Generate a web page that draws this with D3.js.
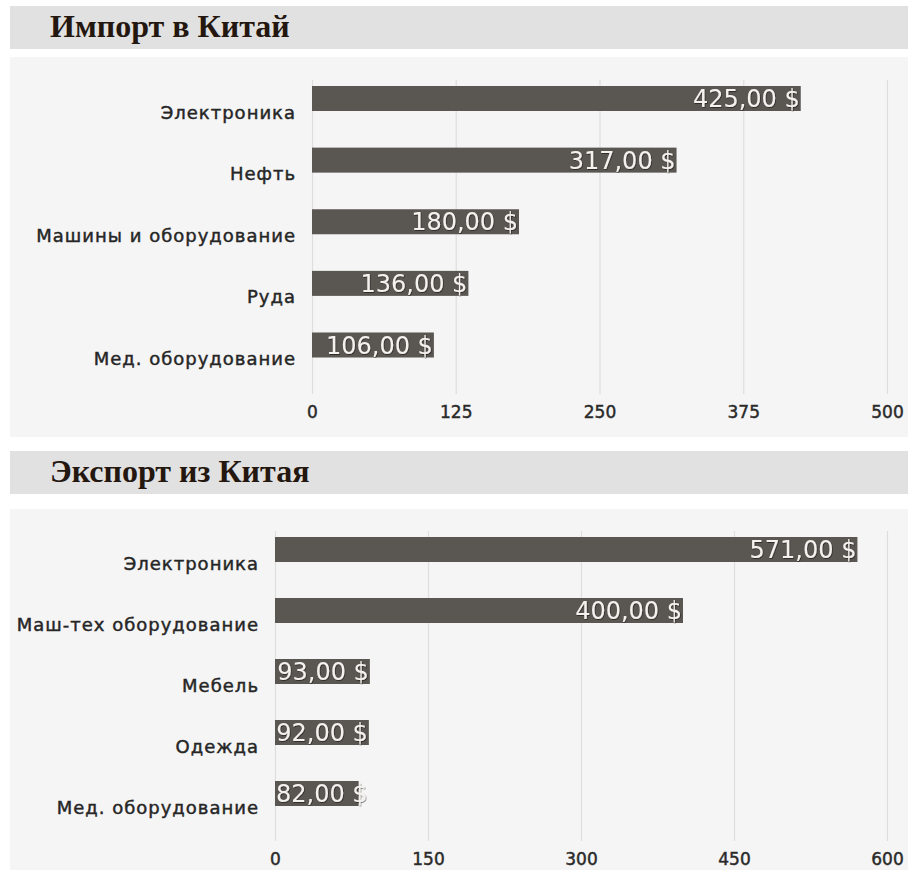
<!DOCTYPE html>
<html>
<head>
<meta charset="utf-8">
<script src="https://cdn.jsdelivr.net/npm/d3@7/dist/d3.min.js"></script>
<style>
  body { margin: 0; background: #ffffff; }
  svg { display: block; }
</style>
</head>
<body>
<svg id="chart" width="908" height="870"></svg>
<script>
// data
var importTitle = "Импорт в Китай";
var importCategories = ["Электроника", "Нефть", "Машины и оборудование", "Руда", "Мед. оборудование"];
var importValues = [425, 317, 180, 136, 106];
var importTicks = [0, 125, 250, 375, 500];

var exportTitle = "Экспорт из Китая";
var exportCategories = ["Электроника", "Маш-тех оборудование", "Мебель", "Одежда", "Мед. оборудование"];
var exportValues = [571, 400, 93, 92, 82];
var exportTicks = [0, 150, 300, 450, 600];

var svg = d3.select("#chart");

var defs = svg.append("defs");
defs.append("filter").attr("id", "shadow")
  .attr("x", "-10%").attr("y", "-20%").attr("width", "120%").attr("height", "140%")
  .append("feDropShadow")
  .attr("dx", 0.6).attr("dy", 0.8).attr("stdDeviation", 0.6)
  .attr("flood-color", "#000").attr("flood-opacity", 0.6);

var fmt = function(v) { return d3.format(".2f")(v).replace(".", ",") + " $"; };

var BarPanel = function(opts) {
  //header band
  svg.append("rect")
    .attr("x", 10).attr("y", opts.headTop)
    .attr("width", 898).attr("height", 43)
    .attr("fill", "#e1e1e1");
  svg.append("text")
    .attr("x", 50).attr("y", opts.headTop + 31)
    .attr("font-family", "'Liberation Serif', serif")
    .attr("font-weight", "bold")
    .attr("font-size", 32)
    .attr("fill", "#24170f")
    .text(opts.title);

  //panel background
  svg.append("rect")
    .attr("x", 10).attr("y", opts.panelTop)
    .attr("width", 898).attr("height", opts.panelBottom - opts.panelTop)
    .attr("fill", "#f5f5f5");

  var xScale = d3.scaleLinear()
    .domain([0, opts.ticks[opts.ticks.length - 1]])
    .range([opts.x0, opts.x1]);
  var yScale = d3.scalePoint()
    .domain(opts.categories)
    .range([opts.yFirst, opts.yLast]);
  var barH = 25;

  //grid
  var xAxis = d3.axisBottom(xScale)
    .tickValues(opts.ticks)
    .tickSize(opts.gridBottom - opts.gridTop)
    .tickFormat(d3.format("d"));
  var g = svg.append("g")
    .attr("transform", "translate(0," + opts.gridTop + ")")
    .call(xAxis);
  g.select(".domain").remove();
  g.selectAll(".tick line").attr("stroke", "#dedede").attr("stroke-width", 1.2);
  g.selectAll(".tick text")
    .attr("y", opts.gridBottom - opts.gridTop + 12)
    .attr("dy", "0.71em")
    .attr("font-family", "'DejaVu Sans', sans-serif")
    .attr("font-size", 17)
    .attr("fill", "#2a2a2a")
    .attr("stroke", "#2a2a2a")
    .attr("stroke-width", 0.45);

  //bars
  svg.selectAll(null)
    .data(opts.values)
    .enter()
    .append("rect")
    .attr("x", xScale(0))
    .attr("y", function(d, i) { return yScale(opts.categories[i]) - barH / 2; })
    .attr("width", function(d) { return xScale(d) - xScale(0); })
    .attr("height", barH)
    .attr("fill", "#5a5651");

  //category labels
  svg.selectAll(null)
    .data(opts.categories)
    .enter()
    .append("text")
    .attr("x", opts.labelX + 1)
    .attr("y", function(d) { return yScale(d) + 20; })
    .attr("text-anchor", "end")
    .attr("font-family", "'DejaVu Sans', sans-serif")
    .attr("font-size", 18)
    .attr("letter-spacing", 1.0)
    .attr("fill", "#262626")
    .attr("stroke", "#262626")
    .attr("stroke-width", 0.45)
    .text(function(d) { return d; });

  //value labels
  svg.selectAll(null)
    .data(opts.values)
    .enter()
    .append("text")
    .attr("y", function(d, i) { return yScale(opts.categories[i]) + 8.5; })
    .attr("text-anchor", "end")
    .attr("font-family", "'DejaVu Sans', sans-serif")
    .attr("font-size", 24)
    .attr("fill", "#f4f2ef")
    .attr("filter", "url(#shadow)")
    .text(fmt)
    .attr("x", function(d) {
      var w = this.getComputedTextLength();
      return Math.max(xScale(d) - 1, xScale(0) + w + 1);
    });
};

BarPanel({
  title: importTitle, categories: importCategories, values: importValues, ticks: importTicks,
  headTop: 6, panelTop: 57, panelBottom: 437,
  x0: 312, x1: 887, yFirst: 98.5, yLast: 345,
  gridTop: 80, gridBottom: 394, labelX: 295
});

BarPanel({
  title: exportTitle, categories: exportCategories, values: exportValues, ticks: exportTicks,
  headTop: 451, panelTop: 509, panelBottom: 870,
  x0: 275, x1: 887, yFirst: 549.5, yLast: 793.5,
  gridTop: 531, gridBottom: 841, labelX: 258
});
</script>
</body>
</html>
